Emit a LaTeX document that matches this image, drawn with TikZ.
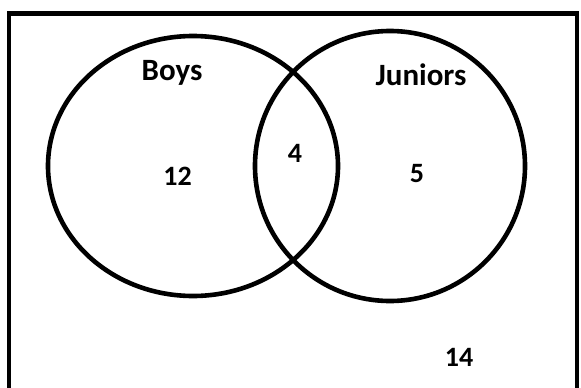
\documentclass[tikz,border=0pt]{standalone}
\usepackage{fontspec}
\setmainfont{Carlito}
\begin{document}
\begin{tikzpicture}[x=1pt,y=-1pt,
  setline/.style={line width=4.6pt},
  lab/.style={font=\fontsize{31}{33}\selectfont\bfseries, anchor=base, inner sep=0pt},
  num/.style={font=\fontsize{28}{30}\selectfont\bfseries, anchor=base, inner sep=0pt}]
\clip (0,0) rectangle (581,388);
\fill[white] (0,0) rectangle (581,388);
\draw[setline] (9,13.5) rectangle (577,400);
\draw[setline] (193,166) ellipse [x radius=145, y radius=130];
\draw[setline] (390,166) circle [radius=135];
\node[lab] (boys) at (172,80) {Boys};
\node[lab] (juniors) at (421,85) {Juniors};
\node[num] (n12) at (177.5,185) {12};
\node[num] (n4) at (295,162) {4};
\node[num] (n5) at (417,182) {5};
\node[num] (n14) at (459,366) {14};
\end{tikzpicture}
\end{document}
